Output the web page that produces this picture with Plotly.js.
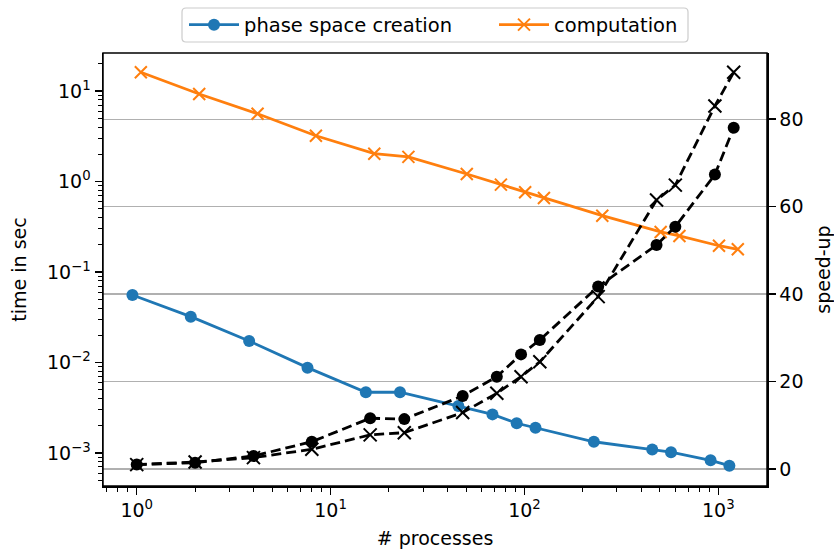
<!DOCTYPE html>
<html>
<head>
<meta charset="utf-8">
<script src="https://cdn.plot.ly/plotly-3.0.1.min.js"></script>
<style>html,body{margin:0;padding:0;background:#fff;}#chart{width:834px;height:549px;}</style>
</head>
<body>
<div id="chart"></div>
<script>
const processes = [1, 2, 4, 8, 16, 24, 48, 72, 96, 120, 240, 480, 600, 960, 1200];
const tPhaseSpace = [0.0557, 0.0321, 0.0173, 0.00877, 0.00469, 0.0047, 0.0033, 0.00267, 0.00213, 0.0019, 0.00133, 0.00109, 0.00102, 0.00083, 0.000724];
const tComputation = [16.1, 9.27, 5.61, 3.2, 2.03, 1.87, 1.21, 0.923, 0.76, 0.658, 0.419, 0.277, 0.25, 0.195, 0.178];
const speedupPhaseSpace = [1.0, 1.44, 2.97, 6.24, 11.6, 11.4, 16.7, 21.1, 26.2, 29.5, 41.7, 51.2, 55.4, 67.3, 78.0];
const speedupComputation = [1.0, 1.6, 2.6, 4.5, 7.8, 8.3, 12.9, 17.3, 21.1, 24.5, 39.4, 61.5, 64.9, 83.0, 90.7];
const xTickVals = [1, 10, 100, 1000];
const xTickText = ['10<sup>0</sup>', '10<sup>1</sup>', '10<sup>2</sup>', '10<sup>3</sup>'];
const yTickVals = [0.001, 0.01, 0.1, 1, 10];
const yTickText = ['10<sup>\u22123</sup>', '10<sup>\u22122</sup>', '10<sup>\u22121</sup>', '10<sup>0</sup>', '10<sup>1</sup>'];
const y2TickVals = [0, 20, 40, 60, 80];

function minorLog(lo, hi) {
  const out = [];
  for (let e = lo; e <= hi; e++) for (let m = 2; m <= 9; m++) out.push(m * Math.pow(10, e));
  return out;
}

// legend frame (rounded box) in paper coordinates
function roundedBox(x0, x1, y0, y1, rx, ry) {
  return `M ${x0 + rx},${y1} L ${x1 - rx},${y1} Q ${x1},${y1} ${x1},${y1 - ry} L ${x1},${y0 + ry} Q ${x1},${y0} ${x1 - rx},${y0} ` +
         `L ${x0 + rx},${y0} Q ${x0},${y0} ${x0},${y0 + ry} L ${x0},${y1 - ry} Q ${x0},${y1} ${x0 + rx},${y1} Z`;
}

const blueShift = 0.95, orangeShift = 1.05;
const FONT = 'DejaVu Sans, sans-serif';
const FS = 19;

const traces = [
  {x: processes.map(v => v * blueShift), y: tPhaseSpace, name: 'phase space creation', type: 'scatter', mode: 'lines+markers',
   line: {color: '#1f77b4', width: 2.8}, marker: {symbol: 'circle', size: 12, color: '#1f77b4'}, xaxis: 'x', yaxis: 'y'},
  {x: processes.map(v => v * orangeShift), y: tComputation, name: 'computation', type: 'scatter', mode: 'lines+markers',
   line: {color: '#ff7f0e', width: 2.8}, marker: {symbol: 'x-thin-open', size: 12, line: {color: '#ff7f0e', width: 2}}, xaxis: 'x', yaxis: 'y'},
  {x: processes, y: speedupPhaseSpace, name: 'speed-up phase space', showlegend: false, type: 'scatter', mode: 'lines+markers',
   line: {color: 'black', width: 2.8, dash: '10px,5px'}, marker: {symbol: 'circle', size: 12, color: 'black'}, xaxis: 'x', yaxis: 'y2'},
  {x: processes, y: speedupComputation, name: 'speed-up computation', showlegend: false, type: 'scatter', mode: 'lines+markers',
   line: {color: 'black', width: 2.8, dash: '10px,5px'}, marker: {symbol: 'x-thin-open', size: 13, line: {color: 'black', width: 2}}, xaxis: 'x', yaxis: 'y2'}
];

const layout = {
  width: 834, height: 549,
  margin: {l: 103, r: 67, t: 53, b: 63, autoexpand: false},
  paper_bgcolor: 'white', plot_bgcolor: 'white',
  font: {family: FONT, size: FS, color: 'black'},
  showlegend: true,
  legend: {orientation: 'h', x: 0.122, xanchor: 'left', y: 1.0647, yanchor: 'middle',
           borderwidth: 0, bgcolor: 'rgba(0,0,0,0)', font: {family: FONT, size: 19.5},
           itemwidth: 50, entrywidth: 245, entrywidthmode: 'pixels'},
  xaxis: {type: 'log', range: [-0.174, 3.251], tickvals: xTickVals, ticktext: xTickText,
          ticks: 'outside', ticklen: 7, tickwidth: 1.3, tickcolor: 'black',
          showline: true, linecolor: 'black', linewidth: 1.5, showgrid: false, zeroline: false,
          minor: {tickvals: minorLog(-1, 3), ticks: 'outside', ticklen: 4, tickwidth: 1, tickcolor: 'black', showgrid: false},
          title: {text: '# processes', font: {family: FONT, size: FS}, standoff: 12}, automargin: false},
  yaxis: {type: 'log', range: [-3.365, 1.42], tickvals: yTickVals, ticktext: yTickText,
          ticks: 'outside', ticklen: 7, tickwidth: 1.3, tickcolor: 'black',
          showline: true, linecolor: 'black', linewidth: 1.5, showgrid: false, zeroline: false,
          minor: {tickvals: minorLog(-4, 1), ticks: 'outside', ticklen: 4, tickwidth: 1, tickcolor: 'black', showgrid: false},
          title: {text: 'time in sec', font: {family: FONT, size: FS}, standoff: 15}, automargin: false},
  yaxis2: {overlaying: 'y', side: 'right', range: [-3.89, 95.1], tickvals: y2TickVals,
           ticks: 'outside', ticklen: 7, tickwidth: 1.3, tickcolor: 'black',
           showline: true, linecolor: 'black', linewidth: 1.5, showgrid: true, gridcolor: '#b0b0b0', gridwidth: 1.1,
           zeroline: false,
           title: {text: 'speed-up', font: {family: FONT, size: FS}, standoff: 14}, automargin: false},
  shapes: [
    {type: 'rect', xref: 'paper', yref: 'paper', x0: 0, x1: 1, y0: 0, y1: 1, layer: 'above',
     line: {color: 'black', width: 1.5}, fillcolor: 'rgba(0,0,0,0)'},
    {type: 'path', xref: 'paper', yref: 'paper', layer: 'above',
     path: roundedBox(0.11898, 0.88102, 1.0254, 1.10393, 0.00602, 0.00924),
     line: {color: '#cccccc', width: 1.2}, fillcolor: 'white'}
  ]
};

Plotly.newPlot('chart', traces, layout, {staticPlot: true, displayModeBar: false});
</script>
</body>
</html>
